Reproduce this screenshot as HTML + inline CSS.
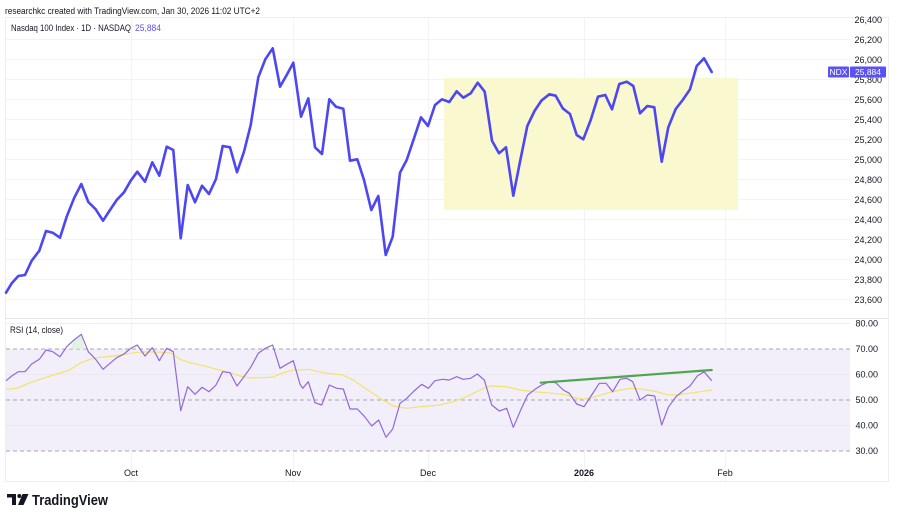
<!DOCTYPE html>
<html><head><meta charset="utf-8"><style>
html,body{margin:0;padding:0;background:#fff;}
svg{display:block;font-family:"Liberation Sans",Arial,sans-serif;}
</style></head><body>
<svg width="903" height="513" viewBox="0 0 903 513" xmlns="http://www.w3.org/2000/svg">
<rect width="903" height="513" fill="#fff"/>
<!-- header -->
<text x="5" y="14" font-size="9" fill="#131722" textLength="255" lengthAdjust="spacingAndGlyphs">researchkc created with TradingView.com, Jan 30, 2026 11:02 UTC+2</text>
<!-- frame -->
<g stroke="#eceef2" stroke-width="1" fill="none">
<line x1="5" y1="17.5" x2="888" y2="17.5"/>
<line x1="5.5" y1="17" x2="5.5" y2="482"/>
<line x1="888.5" y1="17" x2="888.5" y2="482"/>
<line x1="5" y1="481.5" x2="888" y2="481.5"/>
<line x1="5" y1="318.5" x2="888" y2="318.5" stroke="#e4e6ea"/>
</g>
<!-- price grid -->
<g stroke="#f2f3f6" stroke-width="1">
<line x1="6" y1="39.5" x2="850" y2="39.5"/><line x1="6" y1="59.5" x2="850" y2="59.5"/>
<line x1="6" y1="79.5" x2="850" y2="79.5"/><line x1="6" y1="99.5" x2="850" y2="99.5"/>
<line x1="6" y1="119.5" x2="850" y2="119.5"/><line x1="6" y1="139.5" x2="850" y2="139.5"/>
<line x1="6" y1="159.5" x2="850" y2="159.5"/><line x1="6" y1="179.5" x2="850" y2="179.5"/>
<line x1="6" y1="199.5" x2="850" y2="199.5"/><line x1="6" y1="219.5" x2="850" y2="219.5"/>
<line x1="6" y1="239.5" x2="850" y2="239.5"/><line x1="6" y1="259.5" x2="850" y2="259.5"/>
<line x1="6" y1="279.5" x2="850" y2="279.5"/><line x1="6" y1="299.5" x2="850" y2="299.5"/>
<line x1="131.5" y1="18" x2="131.5" y2="481"/><line x1="293.5" y1="18" x2="293.5" y2="481"/>
<line x1="428.5" y1="18" x2="428.5" y2="481"/><line x1="584.5" y1="18" x2="584.5" y2="481"/>
<line x1="725.5" y1="18" x2="725.5" y2="481"/>
</g>
<!-- title -->
<text x="11" y="31" font-size="9" fill="#131722" textLength="120" lengthAdjust="spacingAndGlyphs">Nasdaq 100 Index · 1D · NASDAQ</text>
<text x="135" y="31" font-size="9" fill="#5b52f2" textLength="26" lengthAdjust="spacingAndGlyphs">25,884</text>
<!-- yellow box -->
<rect x="444" y="78" width="294" height="132" fill="#f9f8cf"/>
<!-- price line -->
<polyline fill="none" stroke="#4d47f3" stroke-width="2.6" stroke-linejoin="round" stroke-linecap="round" points="6,292.7 11.7,283.3 18.3,276 25,275 31.7,260.7 39.3,250.7 46,231 52.7,232.7 60,237.7 66.7,216.7 74,198.3 81.3,184 88.3,202 95.7,209.3 103,220.7 110,210 116.7,200 124,192.3 130.7,180.7 137.3,171.7 145,181.7 152.3,162.3 159.3,175.7 166.7,146.7 173.3,150 180.7,238.3 187.7,185 195,202.3 202,185.7 209,194 216,179 222.7,146 230,147.3 237,172.3 244,151.7 250.7,125 258.3,77.3 265.3,59.3 272.7,48.3 280,86.7 286.7,75 293.3,62.7 301,116.7 308.3,98.3 315,147.3 322,154 329.3,99.3 336,106.7 343.3,108.7 350,160.7 357.3,159.3 364,180 371.3,210 378.3,196 385.7,255 392.7,236.7 400,172.7 406.7,160 414,138.3 421,117.3 428,126 435,105 442,99.3 449.3,102 456.7,91.3 463.3,97.7 470.7,93.3 477.7,82.7 484.7,91.7 492,140.7 499,153.3 506,147.3 513.3,195.7 520,161.7 527.3,126 534.5,111 541.5,100.5 549.3,94.3 555.7,95.7 562.7,108.3 570,114 576.7,135 583.3,139.3 590.7,120 598,96.7 605.3,95 612,109.3 619.3,84 626.7,81.7 633.3,86 640,113.3 647.3,106 654.3,107.3 661.7,161.7 668.3,127.3 675.7,109 682.7,100 690,89.3 696.7,66 704,58.3 711.7,72"/>
<!-- price axis labels -->
<g font-size="9" fill="#131722" text-anchor="end">
<text x="882" y="23">26,400</text><text x="882" y="43">26,200</text><text x="882" y="63">26,000</text>
<text x="882" y="83">25,800</text><text x="882" y="103">25,600</text><text x="882" y="123">25,400</text>
<text x="882" y="143">25,200</text><text x="882" y="163">25,000</text><text x="882" y="183">24,800</text>
<text x="882" y="203">24,600</text><text x="882" y="223">24,400</text><text x="882" y="243">24,200</text>
<text x="882" y="263">24,000</text><text x="882" y="283">23,800</text><text x="882" y="303">23,600</text>
</g>
<!-- NDX label -->
<rect x="828" y="66.5" width="21" height="11" rx="1" fill="#5b52f2"/>
<rect x="850" y="66.5" width="36" height="11" rx="1" fill="#5b52f2"/>
<text x="838.5" y="75" font-size="8.5" fill="#fff" text-anchor="middle">NDX</text>
<text x="868" y="75" font-size="8.5" fill="#fff" text-anchor="middle">25,884</text>

<!-- RSI pane -->
<rect x="6" y="349" width="844" height="102" fill="#f2eefa"/>
<g stroke="#ebe8f2" stroke-width="1">
<line x1="6" y1="323.5" x2="850" y2="323.5" stroke="#eceef2"/>
<line x1="6" y1="374.5" x2="850" y2="374.5"/>
<line x1="6" y1="425.5" x2="850" y2="425.5"/>
</g>
<g stroke="#a7a5ad" stroke-width="1" stroke-dasharray="4,3">
<line x1="6" y1="349" x2="850" y2="349"/>
<line x1="6" y1="400" x2="850" y2="400"/>
<line x1="6" y1="451" x2="850" y2="451"/>
</g>
<polygon points="70,349 74,340 81.3,334.3 85,349" fill="#d9efd9" opacity="0.8"/>
<text x="10" y="333" font-size="9" fill="#131722" textLength="53" lengthAdjust="spacingAndGlyphs">RSI (14, close)</text>
<!-- RSI MA yellow -->
<polyline fill="none" stroke="#f3e36a" stroke-width="1.2" points="6,389.3 16.7,388.3 30,382.7 43.3,378.3 56.7,374 68.3,370.7 80,363.3 90,359.3 100,357.3 113.3,356 126.7,354 136.7,352.3 150,352 163.3,352.3 171.7,353.3 180,359.3 190,362.7 203.3,365.7 216.7,369.3 230,372.7 240,376 250,378 263.3,377.7 273.3,377 283.3,372.7 293.3,370 300,370 308.3,369.3 323.3,372.7 333.3,374 341.7,374.7 353.3,380 366.7,389.3 380,398.3 393.3,406 406.7,408.3 420,406.7 440,405 453.3,401.7 466.7,396.7 480,390 490,386 506.7,386.7 520,390 533.3,391.7 553.3,393.3 566.7,395 576.7,398.3 583.3,399.3 593.3,397.3 606.7,393.3 620,390 631.7,388.3 643.3,389.3 656.7,391.7 666.7,394.7 676.7,395 693.3,392.7 711.7,390"/>
<!-- RSI purple -->
<polyline fill="none" stroke="#8f6ad9" stroke-width="1.2" stroke-linejoin="round" points="6,380.7 11.7,376 18.3,371.7 25,371.7 31.7,364 39.3,359.3 46,350 52.7,351.7 60,356.7 66.7,346.7 74,340 81.3,334.3 88.3,351.7 95.7,359.3 103,369.3 110,363.3 116.7,357.7 124,354 130.7,348.3 137.3,345 145,356 152.3,347.7 159.3,360.7 166.7,348.3 173.3,351.7 180.7,410.7 187.7,386.7 195,394.3 202,387.3 209,391.7 216,385 222.7,371.7 230,372.7 237,386 244,376.7 250.7,367.3 258.3,353.3 265.3,348.3 272.7,345 280,368.3 286.7,364.3 293.3,360.7 300,384 302.7,388.3 308.3,381.7 315,402.7 321.7,405 329.3,385 336.7,388.3 343.3,389 350,409 357.3,409 364.7,416.7 371.7,426 378.7,420 386,437.3 392.7,429 400,403.3 406.7,398.3 414,391 421.7,384.3 428.3,388.3 435,380.7 442.7,379.3 449.3,380 456.7,376.7 463.3,379.3 470.7,378.3 477.3,374 484.3,380 491.7,405 499.3,411 506.7,408.3 513.3,427.3 520.7,410 527.7,395 535,389.3 541.7,385 548.7,382 555.7,382.7 563.3,390 569.3,393.3 576.7,404 584,406.7 591.7,395 599.3,383.3 606,383.3 612.7,391.7 620,379.3 626.7,378.3 632.7,381.7 640,400 647.3,395 654.7,396 661.7,425 668.3,407.3 676,396.7 683.3,390.7 690,386 697.3,376 704,371.7 711.7,380.7"/>
<!-- green trendline -->
<line x1="540.7" y1="382.7" x2="711.7" y2="370" stroke="#4fa64f" stroke-width="2.2" stroke-linecap="round"/>
<!-- RSI axis labels -->
<g font-size="9" fill="#131722" text-anchor="end">
<text x="878" y="326.5">80.00</text><text x="878" y="352">70.00</text><text x="878" y="377.5">60.00</text>
<text x="878" y="403">50.00</text><text x="878" y="428.5">40.00</text><text x="878" y="454">30.00</text>
</g>
<!-- time axis -->
<g font-size="9" fill="#131722" text-anchor="middle">
<text x="131" y="476">Oct</text><text x="293" y="476">Nov</text><text x="428" y="476">Dec</text>
<text x="584" y="476" font-weight="bold">2026</text><text x="725" y="476">Feb</text>
</g>
<!-- logo -->
<g fill="#131722">
<path d="M7 494 h9 v11 h-4 v-7.5 h-5 z"/>
<circle cx="19.3" cy="496" r="2"/>
<path d="M22.5 494 h6 l-5 11 h-5.5 z"/>
</g>
<text x="32" y="505" font-size="15" font-weight="bold" fill="#131722" textLength="76" lengthAdjust="spacingAndGlyphs">TradingView</text>
</svg>
</body></html>
